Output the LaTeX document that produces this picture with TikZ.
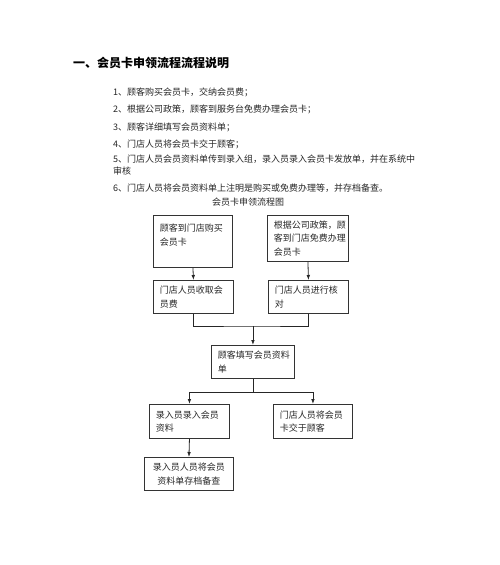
\documentclass[tikz,border=0pt]{standalone}
\usepackage{fontspec}
\setmainfont{Noto Sans CJK SC}
\usetikzlibrary{arrows.meta}
\begin{document}
\begin{tikzpicture}[x=1pt,y=-1pt,
  box/.style={draw=black!80, line width=0.9pt, rectangle, anchor=north west, align=left,
    inner xsep=6pt, inner ysep=2pt, font=\fontsize{9}{13.5}\selectfont, text=black!85},
  conn/.style={draw=black!85, line width=0.8pt},
  arr/.style={conn, -{Latex[length=5pt,width=3.6pt]}},
  item/.style={anchor=west, inner sep=0pt, align=left, font=\fontsize{9}{12}\selectfont, text=black!85}]
\useasboundingbox[fill=white] (0,0) rectangle (500,565);
% title and list
\node[anchor=west, inner sep=0pt, font=\fontsize{12}{14}\selectfont\bfseries] (title) at (73,63) {一、会员卡申领流程流程说明};
\node[item] (i1) at (113,92) {1、顾客购买会员卡，交纳会员费；};
\node[item] (i2) at (113,109.5) {2、根据公司政策，顾客到服务台免费办理会员卡；};
\node[item] (i3) at (113,127) {3、顾客详细填写会员资料单；};
\node[item] (i4) at (113,144) {4、门店人员将会员卡交于顾客；};
\node[item, anchor=north west] (i5) at (113,155) {5、门店人员会员资料单传到录入组，录入员录入会员卡发放单，并在系统中\\审核};
\node[item] (i6) at (113,188.5) {6、门店人员将会员资料单上注明是购买或免费办理等，并存档备查。};
\node[item, anchor=center] (cap) at (248,202) {会员卡申领流程图};
% boxes
\node[box, minimum width=79pt, minimum height=52pt, text width=66pt] (A) at (153,215) {顾客到门店购买\\会员卡\\\mbox{}};
\node[box, minimum width=81pt, minimum height=46pt, text width=68pt] (B) at (267,215) {根据公司政策，顾\\客到门店免费办理\\会员卡};
\node[box, minimum width=80pt, minimum height=33pt, text width=67pt] (C) at (153,280) {门店人员收取会\\员费};
\node[box, minimum width=80pt, minimum height=33pt, text width=67pt] (D) at (268,280) {门店人员进行核\\对};
\node[box, minimum width=83pt, minimum height=33pt, text width=70pt] (E) at (211,345) {顾客填写会员资料\\单};
\node[box, minimum width=80pt, minimum height=34pt, text width=67pt] (F) at (149,404) {录入员录入会员\\资料};
\node[box, minimum width=79pt, minimum height=34pt, text width=66pt] (G) at (273,404) {门店人员将会员\\卡交于顾客};
\node[box, minimum width=89pt, minimum height=33pt, text width=76pt, align=center] (H) at (144,457) {录入员人员将会员\\资料单存档备查};
% connectors
\draw[arr] (A.south) -- (C.north);
\draw[arr] (B.south) -- (D.north);
\coordinate (m) at (E.north |- 0,326);
\draw[conn] (C.south) |- (m) -| (D.south);
\draw[arr] (m) -- (E.north);
\coordinate (s) at (E.south |- 0,392);
\draw[conn] (E.south) -- (s);
\draw[arr] (s) -| (F.north);
\draw[arr] (s) -| (G.north);
\draw[arr] (F.south) -- (H.north);
\end{tikzpicture}
\end{document}
